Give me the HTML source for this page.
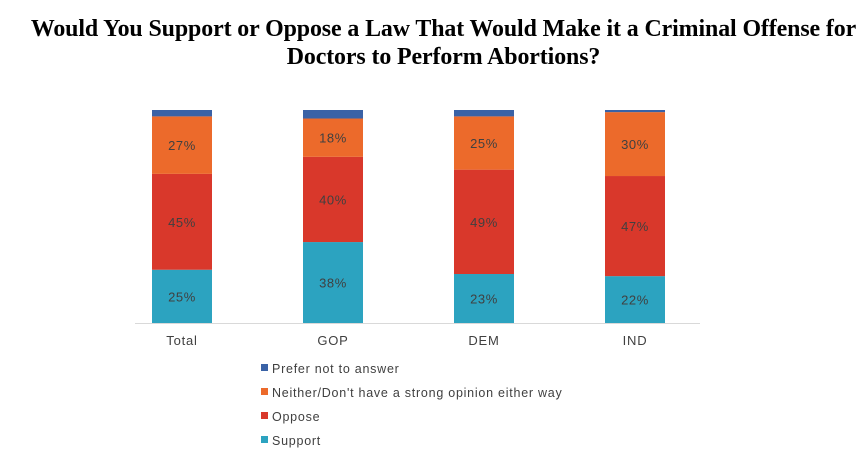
<!DOCTYPE html>
<html><head><meta charset="utf-8"><style>
body{margin:0;background:#fff;width:867px;height:475px;overflow:hidden}
h1{position:absolute;left:10px;top:16px;width:867px;margin:0;text-align:center;font:bold 23.9px/27.5px "Liberation Serif",serif;color:#000;letter-spacing:-0.1px}
svg{position:absolute;left:0;top:0}
</style></head><body>
<h1>Would You Support or Oppose a Law That Would Make it a Criminal Offense for<br>Doctors to Perform Abortions?</h1>
<svg id="chart" width="867" height="475"></svg>
<script>
const categories=["Total","GOP","DEM","IND"];
const support=[25,38,23,22];
const oppose=[45,40,49,47];
const neither=[27,18,25,30];
const preferNot=[3,4,3,1];
const seriesNames=["Prefer not to answer","Neither/Don't have a strong opinion either way","Oppose","Support"];
const svg=document.getElementById('chart');
const NS='http://www.w3.org/2000/svg';
const baseY=323, pxPer=2.13, barW=60;
function xPos(i){return 152+i*151;}
function yScale(v){return v*pxPer;}
function mk(t,a){const e=document.createElementNS(NS,t);for(const k in a)e.setAttribute(k,a[k]);svg.appendChild(e);return e;}
const axis=mk('line',{x1:135,x2:700,y1:baseY+0.5,y2:baseY+0.5,stroke:'#d9d9d9','stroke-width':1});


const stack=[{v:support,c:'#2CA3C0',n:'support'},{v:oppose,c:'#D9382B',n:'oppose'},{v:neither,c:'#EC6A2B',n:'neither'},{v:preferNot,c:'#3A62A6',n:'prefer-not'}];
categories.forEach((cat,i)=>{
  let y=baseY;
  stack.forEach(s=>{
    const h=yScale(s.v[i]);y-=h;
    const r=mk('rect',{x:xPos(i),y:y,width:barW,height:h,fill:s.c});
    
    
    if(s.n!=='prefer-not'){
      const t=mk('text',{x:xPos(i)+barW/2,y:y+h/2+5,'text-anchor':'middle','font-family':'Liberation Sans,sans-serif','font-size':13,'letter-spacing':0.6,fill:'#404040'});
      t.textContent=s.v[i]+'%';
      
      
    }
  });
  const l=mk('text',{x:xPos(i)+barW/2,y:345,'text-anchor':'middle','font-family':'Liberation Sans,sans-serif','font-size':13,'letter-spacing':0.8,fill:'#404040'});
  l.textContent=cat;
  
  
});
const legColors=['#3A62A6','#EC6A2B','#D9382B','#2CA3C0'];
seriesNames.forEach((n,i)=>{
  const y=373+i*24;
  const r=mk('rect',{x:261,y:y-9,width:7,height:7,fill:legColors[i]});
  
  
  const t=mk('text',{x:272,y:y,'font-family':'Liberation Sans,sans-serif','font-size':12.5,'letter-spacing':0.75,fill:'#404040'});
  t.textContent=n;
  
  
});
</script>
</body></html>
